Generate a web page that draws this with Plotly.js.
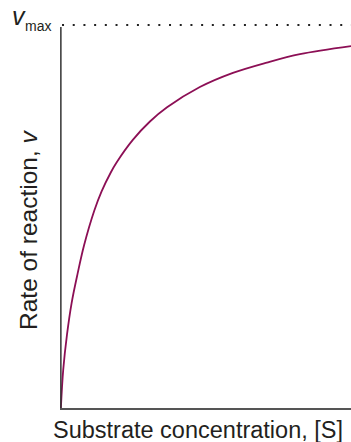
<!DOCTYPE html>
<html>
<head>
<meta charset="utf-8">
<script src="https://cdn.plot.ly/plotly-3.0.1.min.js"></script>
<style>html,body{margin:0;padding:0;background:#fff;}#chart{width:351px;height:442px;}</style>
</head>
<body>
<div id="chart"></div>
<script>
// Substrate concentration [S] (arbitrary units) and rate v as a fraction of vmax
const substrate = [0, 0.08, 0.21, 0.37, 0.58, 0.80, 1.15, 1.40, 1.72, 1.92, 2.48, 3.07, 3.66, 4.79, 5.93, 7.10, 8.24, 10.0];
const rate      = [0, 0.099, 0.191, 0.274, 0.352, 0.425, 0.515, 0.565, 0.615, 0.641, 0.700, 0.748, 0.785, 0.838, 0.875, 0.902, 0.924, 0.945];
const vmax = 1;
const xLabel = "Substrate concentration, [S]";
const yLabel = "Rate of reaction, <i>v</i>";
const vLabel = "<i>v</i>";
const vSub = "max";

const L = 60, T = 3, B = 34, W = 351, H = 442;
const plotW = W - L, plotH = H - T - B;
const px2paperX = p => (p - L) / plotW;
const px2paperY = p => (H - B - p) / plotH;

const trace = {
  x: substrate, y: rate, type: 'scatter', mode: 'lines',
  line: {color: '#8c0f55', width: 1.8, shape: 'spline', smoothing: 1},
  hoverinfo: 'skip'
};

const font = {family: 'Liberation Sans, Arial, sans-serif', color: '#231f20'};

const layout = {
  width: W, height: H,
  margin: {l: L, r: 0, t: T, b: B, pad: 0},
  paper_bgcolor: '#fff', plot_bgcolor: '#fff',
  showlegend: false,
  xaxis: {range: [-0.03, 10], showgrid: false, zeroline: false, showticklabels: false, ticks: '',
          showline: true, linecolor: '#555', linewidth: 1.6, fixedrange: true},
  yaxis: {range: [0, (H - B - T) / 383], showgrid: false, zeroline: false, showticklabels: false, ticks: '',
          showline: false, fixedrange: true},
  shapes: [
    {type: 'line', xref: 'x', yref: 'y', x0: 0, x1: 0, y0: 0, y1: vmax * 0.995,
     line: {color: '#333', width: 1.5}},
    {type: 'line', xref: 'x', yref: 'y', x0: 0.04, x1: 10, y0: vmax, y1: vmax,
     line: {color: '#222', width: 2.2, dash: '2px,8.7px'}}
  ],
  annotations: [
    {text: xLabel, xref: 'paper', yref: 'paper', x: px2paperX(198), y: 0, xanchor: 'center', yanchor: 'top',
     yshift: -6.5, showarrow: false, font: Object.assign({size: 23.5}, font)},
    {text: yLabel, xref: 'paper', yref: 'paper', x: px2paperX(29), y: px2paperY(230), xanchor: 'center', yanchor: 'middle',
     textangle: -90, showarrow: false, font: Object.assign({size: 24.5}, font)},
    {text: vLabel, xref: 'paper', yref: 'paper', x: px2paperX(10), y: px2paperY(31.9), xanchor: 'left', yanchor: 'bottom',
     showarrow: false, font: Object.assign({size: 25}, font)},
    {text: vSub, xref: 'paper', yref: 'paper', x: px2paperX(23), y: px2paperY(35.5), xanchor: 'left', yanchor: 'bottom',
     showarrow: false, font: Object.assign({size: 14}, font)}
  ]
};

Plotly.newPlot('chart', [trace], layout, {staticPlot: true, displayModeBar: false});
</script>
</body>
</html>
